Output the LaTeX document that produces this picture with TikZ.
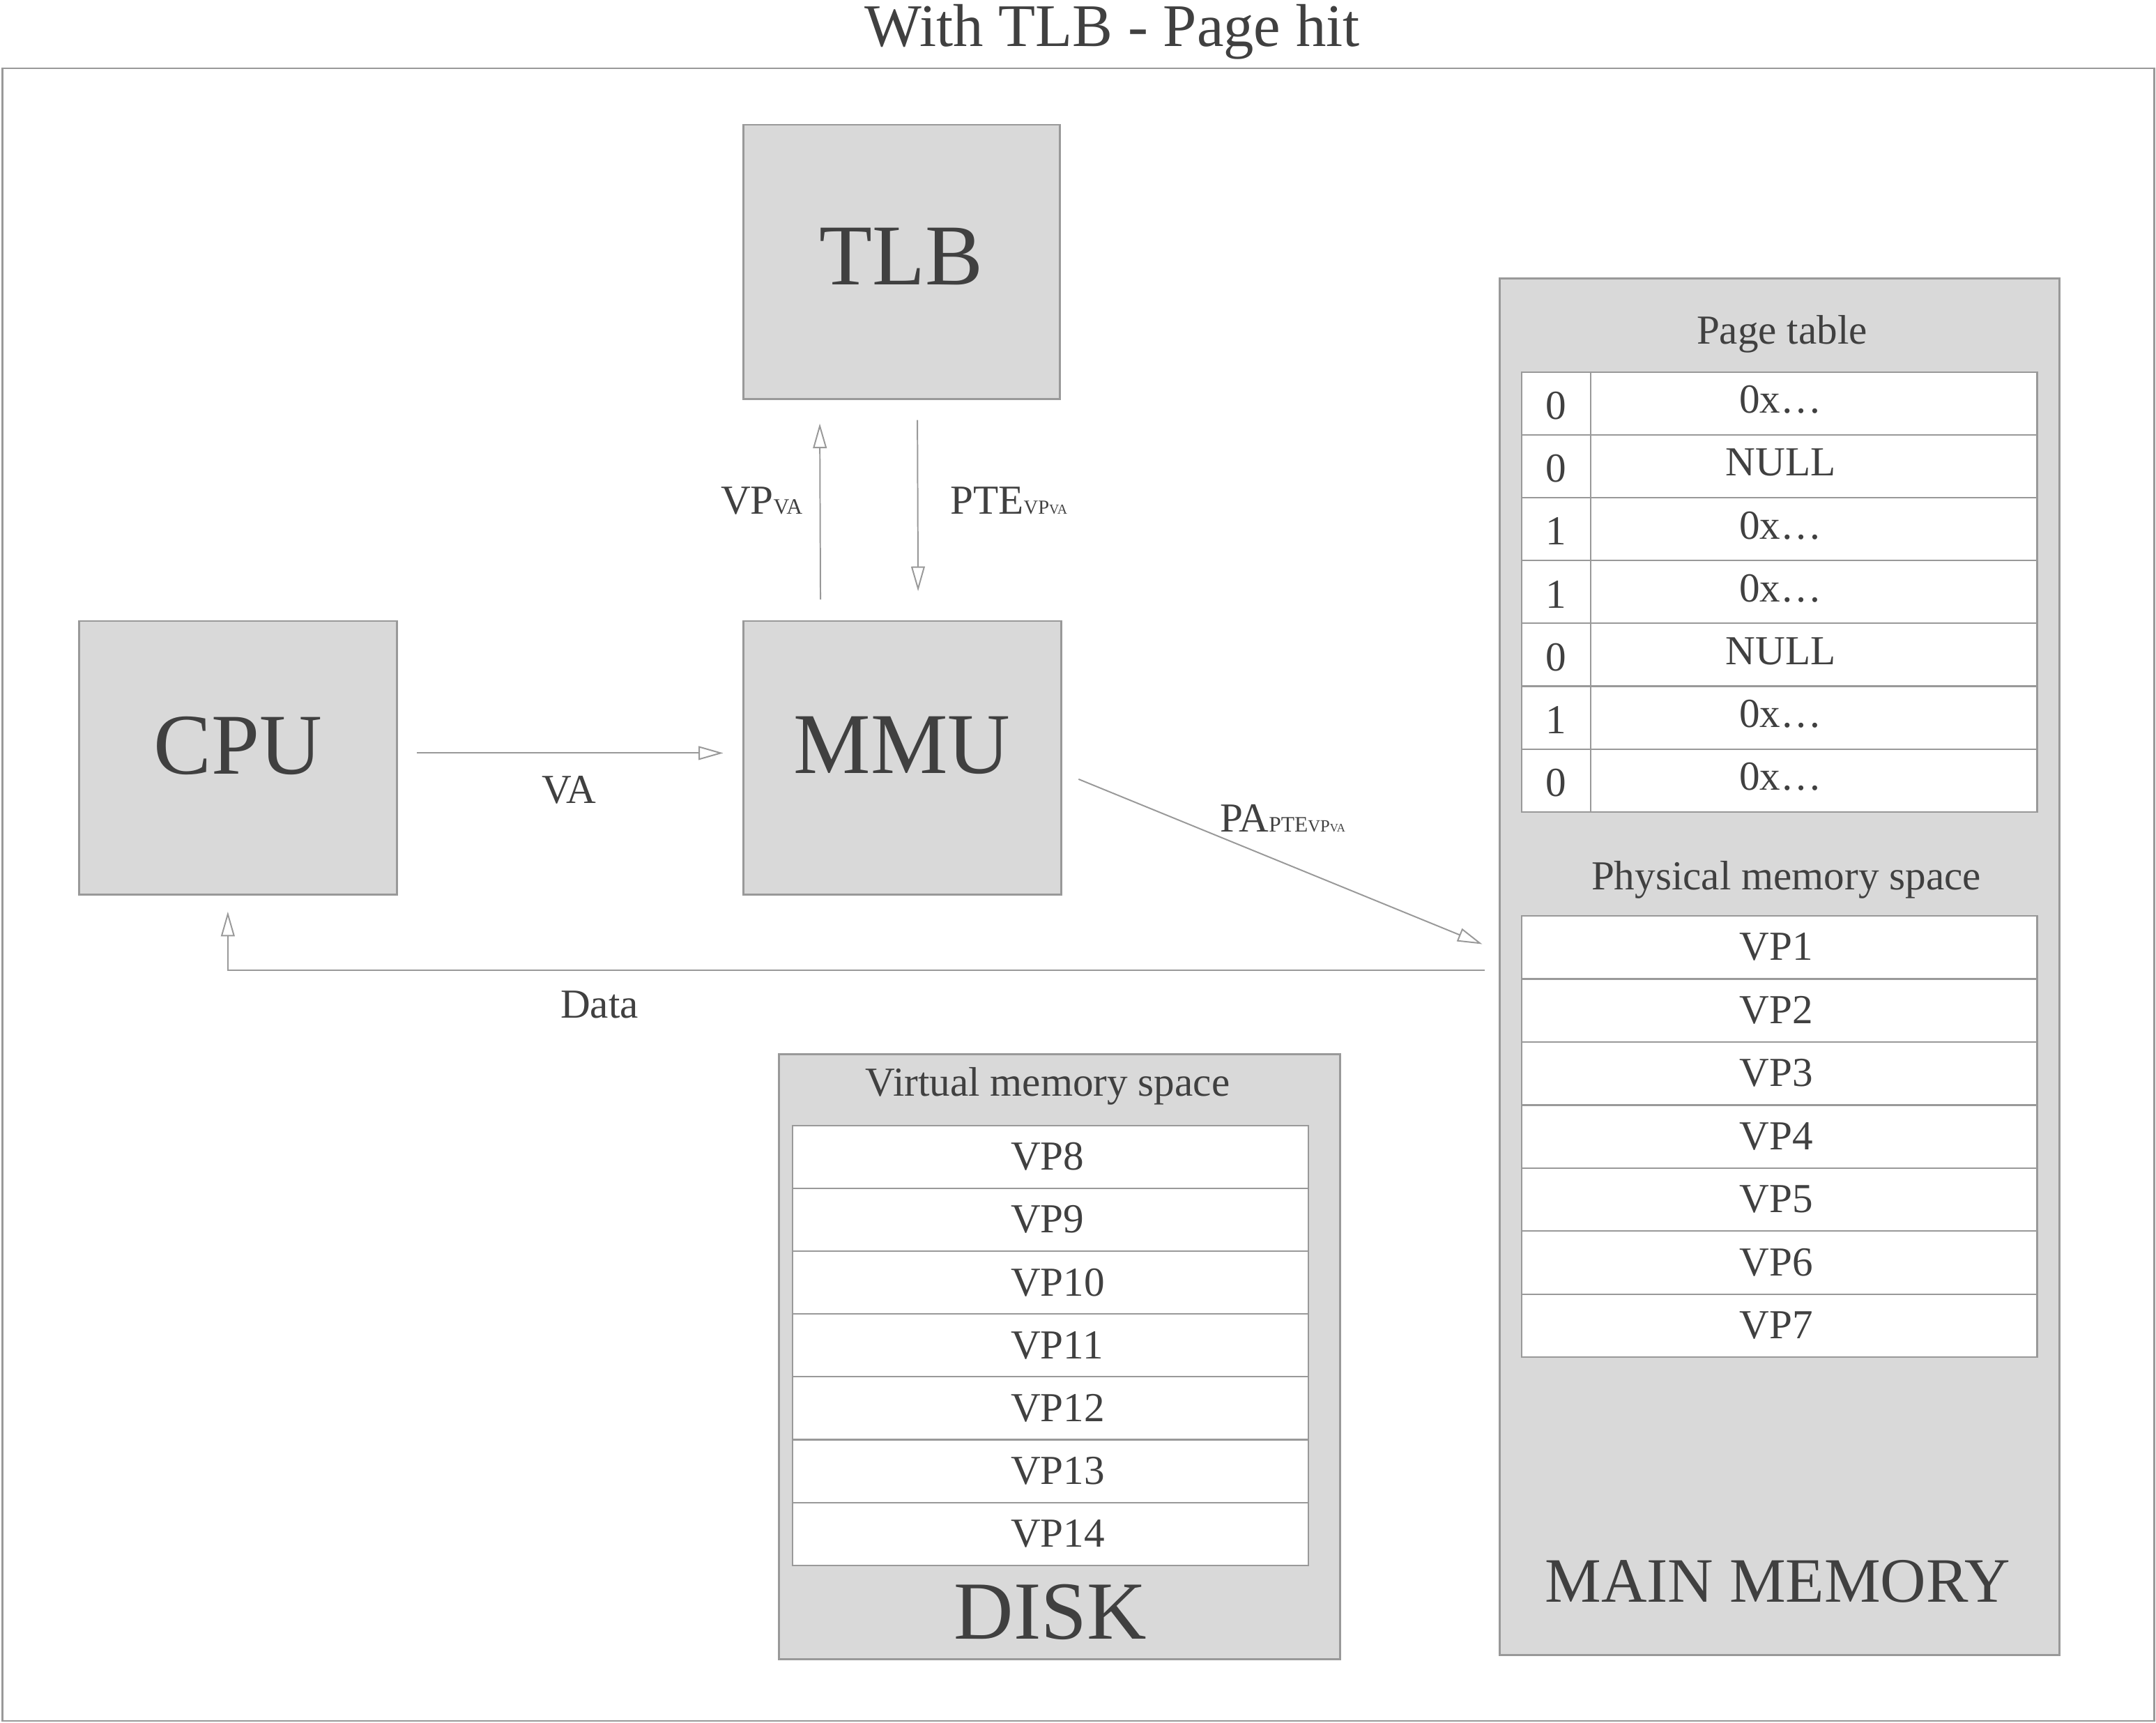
\documentclass[tikz,border=0pt]{standalone}
\usepackage{fontspec}
\setmainfont{Liberation Serif}
\usetikzlibrary{arrows.meta}
\newcommand\fsz[1]{\fontsize{#1}{#1}\selectfont}
\definecolor{txt}{RGB}{64,64,64}
\definecolor{edge}{RGB}{153,153,153}
\definecolor{boxfill}{RGB}{217,217,217}
\begin{document}
\begin{tikzpicture}[x=1pt,y=-1pt,
  box/.style={draw=edge, fill=boxfill, line width=1.4pt, inner sep=0pt, anchor=north west},
  cell/.style={draw=edge, fill=white, line width=1.1pt, inner sep=0pt, anchor=north west, minimum width=375pt, minimum height=45.71pt},
  arr/.style={draw=edge, line width=1pt, -{Triangle[open,length=18pt,width=10pt]}},
  lbl/.style={text=txt, inner sep=0pt, font=\fsz{30}},
  big/.style={text=txt, inner sep=0pt, font=\fsz{63}, anchor=base},
  sect/.style={text=txt, inner sep=0pt, font=\fsz{30}, anchor=base},
  celltxt/.style={text=txt, inner sep=0pt, font=\fsz{30}}]
\useasboundingbox (0,0) rectangle (1568,1253);

% frame and title
\node[draw=edge, line width=1.4pt, inner sep=0pt, anchor=north west, minimum width=1565pt, minimum height=1202pt] (frame) at (1,49) {};
\node[lbl, font=\fsz{44}, anchor=base] (title) at (809,33.5) {With TLB - Page hit};

% main boxes
\node[box, minimum width=230pt, minimum height=199.6pt] (tlb) at (540,90) {};
\node[big] (tlbtxt) at (655.5,207) {TLB};
\node[box, minimum width=231pt, minimum height=199pt] (cpu) at (57,451) {};
\node[big] (cputxt) at (173,563) {CPU};
\node[box, minimum width=231pt, minimum height=199pt] (mmu) at (540,451) {};
\node[big] (mmutxt) at (656,562.6) {MMU};

% main memory
\node[box, minimum width=407pt, minimum height=1001pt] (mm) at (1090,202) {};
\node[sect] (pttitle) at (1296,250) {Page table};
\foreach \b/\v [count=\i] in {0/0x…,0/NULL,1/0x…,1/0x…,0/NULL,1/0x…,0/0x…} {
  \node[cell] (pt\i) at (1106,{270+45.71*(\i-1)}) {};
  \node[celltxt, anchor=base] (ptb\i) at (1131.5,{305+45.71*(\i-1)}) {\b};
  \node[celltxt, anchor=base] (ptv\i) at (1295,{300.5+45.71*(\i-1)}) {\v};
}
\draw[draw=edge, line width=1.1pt] ([xshift=51pt]pt1.north west) -- ([xshift=51pt]pt7.south west);
\node[sect] (pmtitle) at (1299,647) {Physical memory space};
\foreach \i in {1,...,7} {
  \node[cell, minimum height=45.86pt] (pm\i) at (1106,{665.6+45.86*(\i-1)}) {};
  \node[celltxt, anchor=base west] (pmt\i) at (1265,{698.5+45.86*(\i-1)}) {VP\i};
}
\node[text=txt, inner sep=0pt, font=\fsz{46}, anchor=base] (mmtxt) at (1293,1165) {MAIN MEMORY};

% disk
\node[box, minimum width=408pt, minimum height=440pt] (disk) at (566,766) {};
\node[sect] (vmtitle) at (762,797) {Virtual memory space};
\foreach \n [count=\i] in {8,...,14} {
  \node[cell] (dk\i) at (576,{818+45.71*(\i-1)}) {};
  \node[celltxt, anchor=base west] (dkt\i) at (735,{851+45.71*(\i-1)}) {VP\n};
}
\node[text=txt, inner sep=0pt, font=\fsz{60}, anchor=base] (disktxt) at (764,1192) {DISK};

% connectors
\draw[arr] ([xshift=14pt,yshift=3.5pt]cpu.east) -- ([xshift=-14pt,yshift=3.5pt]mmu.west);
\draw[arr] ([xshift=-59.5pt,yshift=15pt]mmu.north) -- ([xshift=-59.5pt,yshift=-17pt]tlb.south);
\draw[arr] ([xshift=11.5pt,yshift=-14.5pt]tlb.south) -- ([xshift=11.5pt,yshift=21pt]mmu.north);
\draw[arr] ([xshift=12pt,yshift=-15.5pt]mmu.east) -- ([xshift=-12pt,yshift=16.5pt]mm.west);
\draw[arr] ([xshift=-10pt,yshift=-2.5pt]mm.west) -| ([xshift=-7.5pt,yshift=-11.6pt]cpu.south);

% connector labels
\node[lbl, anchor=base west] (vpva) at (524,374) {VP{\fsz{16}VA}};
\node[lbl, anchor=base west] (pte) at (691,374) {PTE{\fsz{14.5}VP{\fsz{10}VA}}};
\node[lbl, anchor=base] (va) at (414,584.5) {VA};
\node[lbl, anchor=base west] (pa) at (887,605) {PA{\fsz{16}PTE{\fsz{12.5}VP{\fsz{8.5}VA}}}};
\node[lbl, anchor=base] (data) at (436,740.6) {Data};
\end{tikzpicture}
\end{document}
